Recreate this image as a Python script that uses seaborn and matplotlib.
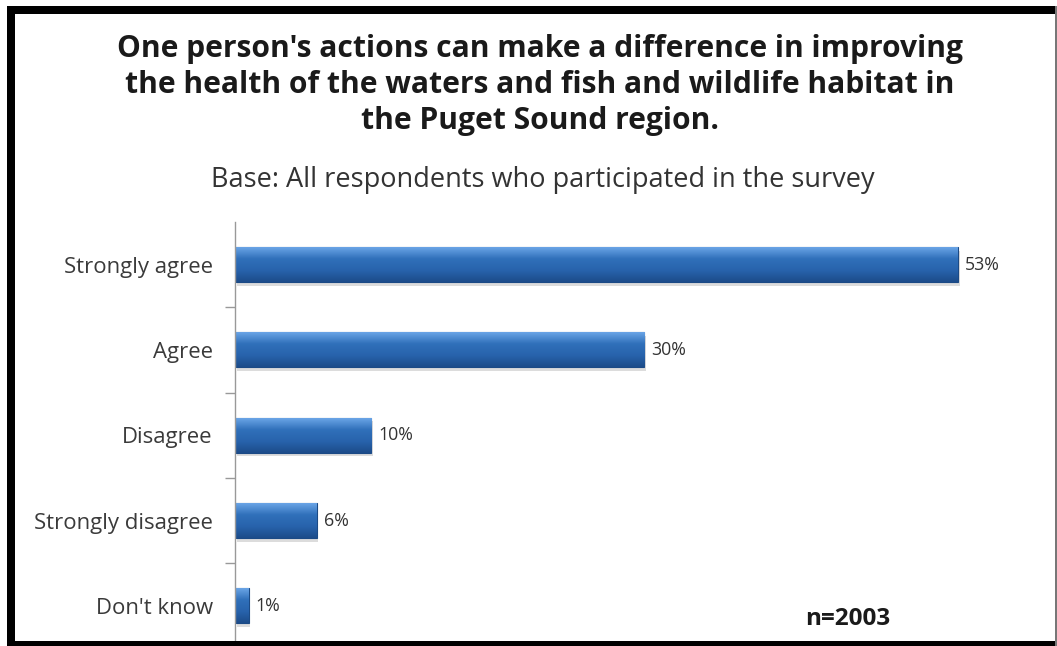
import matplotlib
matplotlib.use("Agg")
import matplotlib.pyplot as plt
import seaborn as sns
import numpy as np
import pandas as pd
from matplotlib.patches import Rectangle
from matplotlib.colors import LinearSegmentedColormap

categories = ["Strongly agree", "Agree", "Disagree", "Strongly disagree", "Don't know"]
values = [53, 30, 10, 6, 1]
value_labels = ["53%", "30%", "10%", "6%", "1%"]
title_lines = ["One person's actions can make a difference in improving",
               "the health of the waters and fish and wildlife habitat in",
               "the Puget Sound region."]
subtitle = "Base: All respondents who participated in the survey"
note = "n=2003"

sns.set_theme(style="white")
FAM = ['Open Sans', 'DejaVu Sans']
plt.rcParams['font.family'] = FAM

W, H = 1057, 646
fig = plt.figure(figsize=(W / 100, H / 100), dpi=100)
fig.patch.set_facecolor("white")
renderer = fig.canvas.get_renderer()

def fx(x): return x / W
def fy(y): return 1 - y / H

def fit_size(text, target_px, weight="normal", base=12.0):
    t = fig.text(0, 0, text, fontsize=base, fontweight=weight)
    w = t.get_window_extent(renderer=renderer).width
    t.remove()
    return base * target_px / w

ax_left, ax_right, ax_top, ax_bot = 235, 1040, 222, 641
ax = fig.add_axes([fx(ax_left), fy(ax_bot), fx(ax_right - ax_left), (ax_bot - ax_top) / H])

df = pd.DataFrame({"cat": categories, "val": values})
sns.barplot(data=df, x="val", y="cat", order=categories, color="#2B67B2",
            width=0.41, ax=ax, saturation=1, edgecolor="#1B4A85", linewidth=0.8)

xmax = (ax_right - ax_left) / 13.64
ylim = (4 + (641 - 606) / 85.25, -0.5)

grad = np.linspace(0, 1, 64).reshape(-1, 1)
cmap = LinearSegmentedColormap.from_list("bar", ["#6AA4E6", "#3070BA", "#2863AC", "#1C4C8A"])
for p in list(ax.patches):
    x0, y0 = p.get_x(), p.get_y()
    w, h = p.get_width(), p.get_height()
    im = ax.imshow(grad, extent=[x0, x0 + w, y0 + h, y0], aspect="auto", cmap=cmap,
                   zorder=p.get_zorder() + 0.1, interpolation="bicubic")
    im.set_clip_path(p)
    ax.add_patch(Rectangle((x0 + 0.12, y0 + 0.04), w, h, facecolor="#bbbbbb", alpha=0.5,
                           edgecolor="none", zorder=p.get_zorder() - 0.1))
ax.set_xlim(0, xmax)
ax.set_ylim(*ylim)

val_fs = fit_size("53%", 35)
for i, (v, lab) in enumerate(zip(values, value_labels)):
    ax.text(v + 0.5, i, lab, va="center", ha="left", fontsize=val_fs, color="#333333")

cat_fs = fit_size("Strongly agree", 148)
ax.set_xlabel("")
ax.set_ylabel("")
ax.set_xticks([])
ax.set_yticks(range(len(categories)))
ax.set_yticklabels(categories, fontsize=cat_fs, color="#3a3a3a")
ax.tick_params(axis="y", which="major", length=0, pad=16)
ax.set_yticks([0.5, 1.5, 2.5, 3.5], minor=True)
ax.tick_params(axis="y", which="minor", length=7, color="#999999", width=1, direction="out", left=True)
for s in ["top", "right", "bottom"]:
    ax.spines[s].set_visible(False)
ax.spines["left"].set_color("#999999")
ax.spines["left"].set_linewidth(1)

title_fs = fit_size(title_lines[0], 845, weight="bold")
for line, yy in zip(title_lines, [49, 85, 121]):
    fig.text(fx(540), fy(yy), line, ha="center", va="center", fontsize=title_fs,
             fontweight="bold", color="#1a1a1a")
sub_fs = fit_size(subtitle, 660)
fig.text(fx(543), fy(180), subtitle, ha="center", va="center", fontsize=sub_fs, color="#333333")
note_fs = fit_size(note, 85, weight="bold")
fig.text(fx(848), fy(619), note, ha="center", va="center", fontsize=note_fs,
         fontweight="bold", color="#1a1a1a")

fig.patches.append(Rectangle((fx(7), fy(14)), fx(1050), 8 / H, transform=fig.transFigure,
                             facecolor="black", edgecolor="none"))
fig.patches.append(Rectangle((fx(7), 0), fx(8), fy(6), transform=fig.transFigure,
                             facecolor="black", edgecolor="none"))
fig.patches.append(Rectangle((fx(7), 0), fx(1050), 5 / H, transform=fig.transFigure,
                             facecolor="black", edgecolor="none"))
fig.patches.append(Rectangle((fx(1055), 0), fx(2), fy(6), transform=fig.transFigure,
                             facecolor="#777777", edgecolor="none"))

fig.savefig("out.png", dpi=100, facecolor="white")
